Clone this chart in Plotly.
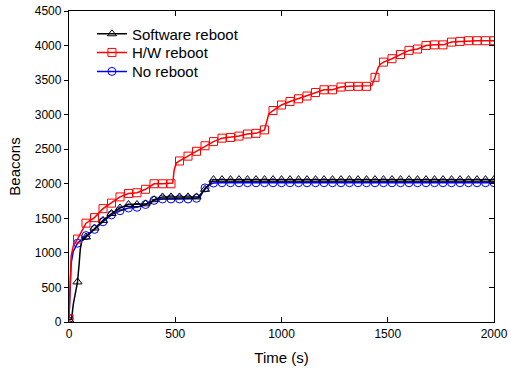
import plotly.graph_objects as go

# ---- data ----
marker_times = list(range(0, 2001, 40))

sw_reboot = [30, 580, 1230, 1360, 1470, 1570, 1650, 1700, 1700, 1710,
             1770, 1810, 1810, 1810, 1810, 1810, 1920, 2060] + [2060] * 33
hw_reboot = [50, 1200, 1430, 1510, 1640, 1720, 1810, 1860, 1870, 1920,
             2000, 2000, 2000, 2330, 2400, 2470, 2550, 2610, 2660, 2670,
             2690, 2720, 2730, 2780, 3060, 3140, 3190, 3230, 3270, 3320,
             3360, 3360, 3400, 3410, 3410, 3410, 3540, 3760, 3810, 3870,
             3930, 3950, 4000, 4010, 4010, 4050, 4060, 4070, 4070, 4070,
             4070]
no_reboot = [50, 1140, 1250, 1340, 1450, 1550, 1610, 1650, 1660, 1700,
             1760, 1780, 1780, 1780, 1780, 1790, 1940, 2010] + [2015] * 33

# extra (between-marker) points of the recorded lines
sw_extra_t = [12, 20, 30, 48, 53, 60, 385, 395, 608, 676]
sw_extra_y = [40, 250, 420, 850, 1050, 1170, 1710, 1770, 1810, 2060]
hw_extra_t = [5, 10, 20, 488, 495, 505, 930, 940, 1425, 1455, 1465]
hw_extra_y = [700, 950, 1100, 2010, 2200, 2300, 2900, 3010, 3420, 3680, 3730]
nr_extra_t = [5, 10, 20, 615, 670]
nr_extra_y = [600, 850, 1020, 1800, 2000]

series = [
    # name, marker values, extra t, extra y, colour, symbol, legend id
    ("No reboot", no_reboot, nr_extra_t, nr_extra_y, "#0000FF", "circle-open", "legend3"),
    ("Software reboot", sw_reboot, sw_extra_t, sw_extra_y, "#000000", "triangle-up-open", "legend"),
    ("H/W reboot", hw_reboot, hw_extra_t, hw_extra_y, "#FF0000", "square-open", "legend2"),
]

FONT = "Arial, Liberation Sans, sans-serif"
fig = go.Figure()

for name, vals, et, ey, col, sym, leg in series:
    pts = sorted(list(zip(marker_times, vals)) + list(zip(et, ey)))
    lx = [p[0] for p in pts]
    ly = [p[1] for p in pts]
    fig.add_trace(go.Scatter(x=lx, y=ly, mode="lines",
                             line=dict(color=col, width=1.5),
                             showlegend=False, hoverinfo="skip"))
    fig.add_trace(go.Scatter(x=marker_times, y=vals, mode="markers",
                             marker=dict(symbol=sym, size=8, color=col,
                                         line=dict(color=col, width=1)),
                             showlegend=False))
    fig.add_trace(go.Scatter(x=[None], y=[None], mode="lines+markers", name=name,
                             line=dict(color=col, width=1.5),
                             marker=dict(symbol=sym, size=8, color=col,
                                         line=dict(color=col, width=1)),
                             legend=leg))

# invisible trace for the right (mirror) axis
fig.add_trace(go.Scatter(x=[None], y=[None], yaxis="y2", showlegend=False))

tick_y = [0, 500, 1000, 1500, 2000, 2500, 3000, 3500, 4000, 4500]
tick_x = [0, 500, 1000, 1500, 2000]


def leg(yc):
    return dict(x=0.054, y=yc, xanchor="left", yanchor="middle",
                bgcolor="rgba(0,0,0,0)", borderwidth=0,
                font=dict(family=FONT, size=15, color="black"))


fig.update_layout(
    width=511, height=373,
    margin=dict(l=69, r=17, t=11, b=51, autoexpand=False),
    paper_bgcolor="white", plot_bgcolor="white",
    font=dict(family=FONT, size=12, color="black"),
    showlegend=True,
    legend=leg(0.926),
    legend2=leg(0.866),
    legend3=leg(0.805),
    xaxis=dict(range=[0, 2000], tickvals=tick_x, ticks="inside", ticklen=5,
               tickcolor="black", showline=True, linecolor="black", linewidth=1.3,
               mirror="ticks", showgrid=False, zeroline=False, automargin=False,
               title=dict(text="Time (s)", font=dict(size=15), standoff=12),
               tickfont=dict(size=12)),
    yaxis=dict(range=[0, 4500], tickvals=tick_y, ticks="outside", ticklen=4,
               tickcolor="black", showline=True, linecolor="black", linewidth=1.3,
               showgrid=False, zeroline=False, automargin=False,
               title=dict(text="Beacons", font=dict(size=15), standoff=10),
               tickfont=dict(size=12)),
    yaxis2=dict(range=[0, 4500], tickvals=tick_y, ticks="inside", ticklen=5,
                tickcolor="black", showline=True, linecolor="black", linewidth=1.3,
                overlaying="y", side="right", showticklabels=False,
                showgrid=False, zeroline=False, automargin=False),
)

fig.write_html("out.html")
